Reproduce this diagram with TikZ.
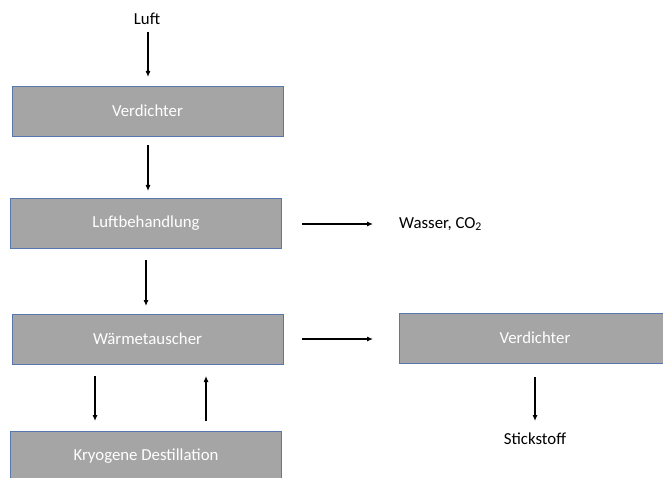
\documentclass[tikz,border=0pt]{standalone}
\usepackage{fontspec}
\setmainfont{Carlito}
\usetikzlibrary{arrows.meta}
\definecolor{boxfill}{HTML}{A5A5A5}
\definecolor{boxline}{HTML}{5877AE}
\tikzset{
  procbox/.style={draw=boxline, line width=0.9pt, fill=boxfill, text=white,
    minimum width=271pt, minimum height=50pt, inner sep=0pt,
    font=\fontsize{16.8}{20}\selectfont},
  lbl/.style={inner sep=0pt, font=\fontsize{16.8}{20}\selectfont},
  flow/.style={draw=black, line width=1.1pt, -{Latex[length=6pt,width=5pt]}}
}
\begin{document}
\begin{tikzpicture}[x=1pt, y=-1pt]
\useasboundingbox (0,0) rectangle (663,478);
\clip (0,0) rectangle (663,478);
% main column
\node[lbl] (luft) at (147,19) {Luft};
\node[procbox] (v1) at (147.5,111) {Verdichter};
\node[procbox] (lb) at (146,223) {Luftbehandlung};
\node[procbox] (wt) at (147.5,339) {Wärmetauscher};
\node[procbox] (kd) at (146,456) {Kryogene Destillation};
% right column
\node[lbl, anchor=west] (ws) at (399,224) {Wasser, CO\textsubscript{2}};
\node[procbox] (v2) at (535,338) {Verdichter};
\node[lbl] (st) at (535,439) {Stickstoff};
% connectors
\coordinate (a1) at (148,32);  \coordinate (a2) at (148,77);
\coordinate (b1) at (148,145); \coordinate (b2) at (148,191);
\coordinate (c1) at (146,260); \coordinate (c2) at (146,306);
\coordinate (d1) at (302,224); \coordinate (d2) at (373,224);
\coordinate (e1) at (302,339); \coordinate (e2) at (373,339);
\coordinate (f1) at (95,376);  \coordinate (f2) at (95,421);
\coordinate (g1) at (206,421); \coordinate (g2) at (206,376);
\coordinate (h1) at (535,377); \coordinate (h2) at (535,421);
\draw[flow] (a1) -- (a2);
\draw[flow] (b1) -- (b2);
\draw[flow] (c1) -- (c2);
\draw[flow] (d1) -- (d2);
\draw[flow] (e1) -- (e2);
\draw[flow] (f1) -- (f2);
\draw[flow] (g1) -- (g2);
\draw[flow] (h1) -- (h2);
\end{tikzpicture}
\end{document}
